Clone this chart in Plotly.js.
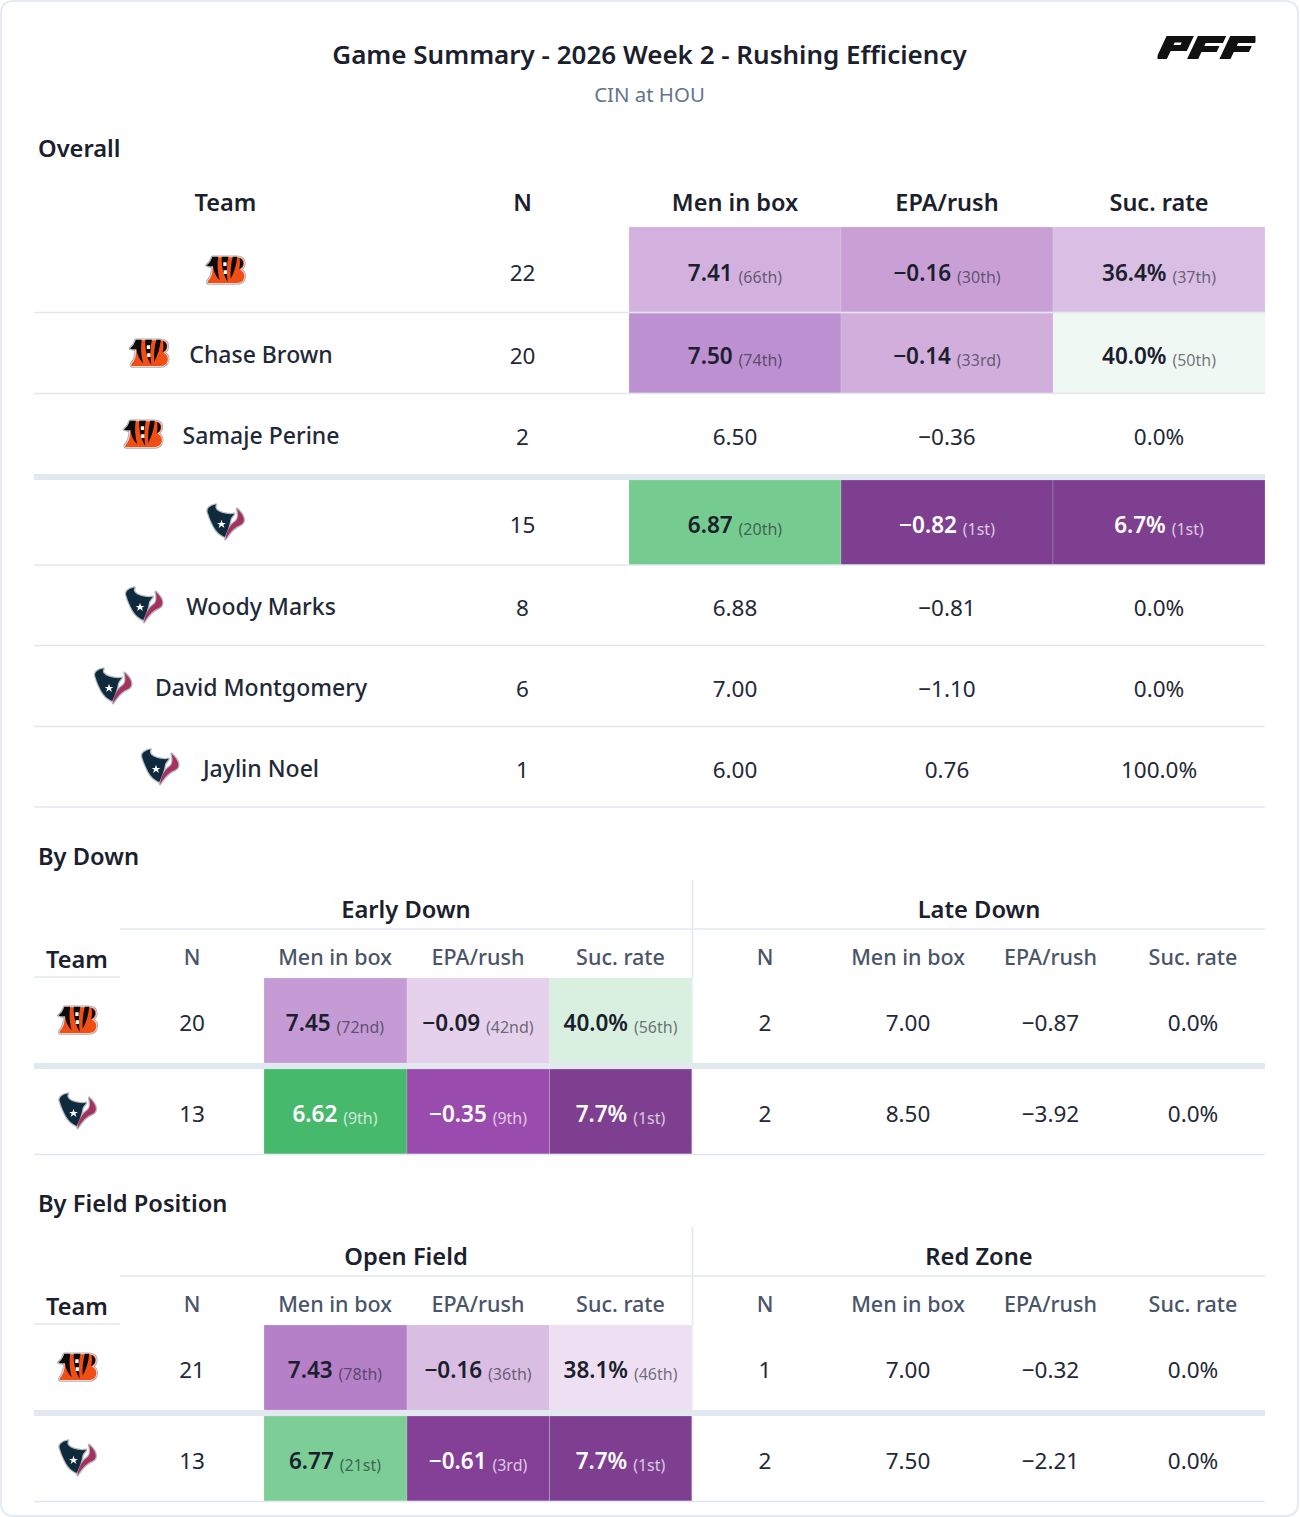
<!DOCTYPE html>
<html>
<head>
<meta charset="utf-8">
<script src="https://cdn.plot.ly/plotly-3.0.1.min.js"></script>
<style>html,body{margin:0;padding:0;background:#fff}#chart{width:1300px;height:1517px}</style>
</head>
<body>
<div id="chart"></div>
<script>
// ---------- values ----------
const chartTitle = 'Game Summary - 2026 Week 2 - Rushing Efficiency';
const chartSubtitle = 'CIN at HOU';
const sectionTitles = ['Overall', 'By Down', 'By Field Position'];
const metricHeaders = ['Men in box', 'EPA/rush', 'Suc. rate'];

const overallClubs = ['CIN', 'CIN', 'CIN', 'HOU', 'HOU', 'HOU', 'HOU'];
const overallNames = ['', 'Chase Brown', 'Samaje Perine', '', 'Woody Marks', 'David Montgomery', 'Jaylin Noel'];
const overallN = [22, 20, 2, 15, 8, 6, 1];
const overallBox = [7.41, 7.50, 6.50, 6.87, 6.88, 7.00, 6.00];
const overallBoxRank = ['66th', '74th', '', '20th', '', '', ''];
const overallEpa = [-0.16, -0.14, -0.36, -0.82, -0.81, -1.10, 0.76];
const overallEpaRank = ['30th', '33rd', '', '1st', '', '', ''];
const overallSuc = [36.4, 40.0, 0.0, 6.7, 0.0, 0.0, 100.0];
const overallSucRank = ['37th', '50th', '', '1st', '', '', ''];

const splitClubs = ['CIN', 'HOU'];

const downGroups = ['Early Down', 'Late Down'];
const earlyN = [20, 13];
const earlyBox = [7.45, 6.62];
const earlyBoxRank = ['72nd', '9th'];
const earlyEpa = [-0.09, -0.35];
const earlyEpaRank = ['42nd', '9th'];
const earlySuc = [40.0, 7.7];
const earlySucRank = ['56th', '1st'];
const lateN = [2, 2];
const lateBox = [7.00, 8.50];
const lateEpa = [-0.87, -3.92];
const lateSuc = [0.0, 0.0];

const fieldGroups = ['Open Field', 'Red Zone'];
const openN = [21, 13];
const openBox = [7.43, 6.77];
const openBoxRank = ['78th', '21st'];
const openEpa = [-0.16, -0.61];
const openEpaRank = ['36th', '3rd'];
const openSuc = [38.1, 7.7];
const openSucRank = ['46th', '1st'];
const redN = [1, 2];
const redBox = [7.00, 7.50];
const redEpa = [-0.32, -2.21];
const redSuc = [0.0, 0.0];

// ---------- styles ----------
const overallBoxShade = ['#d3b1de', '#bd91d1', null, '#75cb90', null, null, null];
const overallEpaShade = ['#c9a0d6', '#d1aedc', null, '#7e3f90', null, null, null];
const overallSucShade = ['#dabfe4', '#f0f8f3', null, '#7e3f90', null, null, null];
const earlyBoxShade = ['#c49bd4', '#47b96d'];
const earlyEpaShade = ['#e5d1eb', '#9a4bae'];
const earlySucShade = ['#d9f0e1', '#7e3f90'];
const openBoxShade = ['#b680c8', '#7ccd96'];
const openEpaShade = ['#d9bde3', '#843f96'];
const openSucShade = ['#eee0f2', '#7e3f90'];

const FONT = 'Noto Sans, sans-serif';
const INK = '#1a202c';
const BODY = '#1f2937';
const SUB = '#4a5568';
const MUTED = '#64748b';
const RULE = '#e2e8f0';
const TEXT_DY = 2.5;

// ---------- formatting ----------
const fmtBox = v => v.toFixed(2);
const fmtEpa = v => (v < 0 ? '\u2212' : '') + Math.abs(v).toFixed(2);
const fmtSuc = v => v.toFixed(1) + '%';
const isDark = hex => {
  const n = parseInt(hex.slice(1), 16);
  return 0.299 * (n >> 16) + 0.587 * ((n >> 8) & 255) + 0.114 * (n & 255) < 150;
};

// ---------- logos (drawn, not photographs) ----------
const svgUri = s => 'data:image/svg+xml;utf8,' + encodeURIComponent(s);
const cinB = 'M24 10H90C106 10 113 19 111 31C110 38 106 42 101 45C110 49 114 58 112 67C110 78 100 83 88 83H16C10 83 9 79 12 75C18 68 22 60 23 50L24 36C18 37 13 36 8 34C16 28 21 20 24 10Z';
const cinLogo = svgUri(`<svg xmlns="http://www.w3.org/2000/svg" viewBox="0 0 120 92">
<path d="${cinB}" fill="#fff" stroke="#a4abb3" stroke-width="7" stroke-linejoin="round"/>
<path d="${cinB}" fill="#f04e14" stroke="#fff" stroke-width="2" stroke-linejoin="round"/>
<path d="M24 10H40C37 30 38 52 44 74C34 64 27 50 26 36C19 37 13 36 8 34C16 28 21 20 24 10Z" fill="#0b0b0b"/>
<path d="M50 10H68C63 30 63 56 66 78C55 62 48 34 50 10Z" fill="#0b0b0b"/>
<path d="M54 25H63V35H54ZM55 47H64V57H55Z" fill="#fff"/>
<path d="M80 10H92C90 32 84 52 74 70C73 48 75 28 80 10Z" fill="#0b0b0b"/>
<path d="M98 13C107 17 110 24 108 32C106 38 103 41 97 44C100 34 100 22 98 13Z" fill="#0b0b0b"/>
</svg>`);
const houHead = 'M12 28C6 16 18 6 34 4C28 14 36 22 50 27C60 30 72 32 84 30C80 36 76 40 74 44C72 60 66 76 58 94C46 88 34 78 28 66C22 54 16 42 12 28Z';
const houHorn = 'M92 16C110 32 118 52 102 60C86 66 74 78 60 100C62 78 74 60 86 52C96 46 96 30 92 16Z';
const houLogo = svgUri(`<svg xmlns="http://www.w3.org/2000/svg" viewBox="0 0 120 105">
<path d="${houHead}" fill="#fff" stroke="#b4bac1" stroke-width="7" stroke-linejoin="round"/>
<path d="${houHorn}" fill="#fff" stroke="#b4bac1" stroke-width="7" stroke-linejoin="round"/>
<path d="${houHead}" fill="#0f2a3d"/>
<path d="${houHorn}" fill="#a6305e"/>
<path d="M49 46L52 55L61 55L54 60L57 69L49 63L41 69L44 60L37 55L46 55Z" fill="#fff"/>
</svg>`);
const pffLogo = svgUri(`<svg xmlns="http://www.w3.org/2000/svg" viewBox="0 0 97 23">
<g transform="translate(9 0) skewX(-25)" fill="#111">
<path d="M0 0H27V15H11V23H0ZM11 6.5V9H18V6.5Z"/>
<path d="M31 0H59V7H42V10H57V16H42V23H31Z" />
<path d="M63 0H91V7H74V10H89V16H74V23H63Z"/>
</g></svg>`);
const clubLogo = { CIN: cinLogo, HOU: houLogo };

// ---------- layout geometry ----------
const LEFT = 34, RIGHT = 1265;
const overallCols = [629, 841, 1053, 1265];
const overallRows = [[227, 312], [313, 393], [394, 474], [480, 565], [565, 645], [646, 726], [727, 807]];
const overallValueY = [273, 356, 437, 525, 608, 689, 770];
const overallLogoY = [270, 353, 434, 522, 605, 686, 767];
const overallLogoX = [225.5, 149, 143, 225.5, 144, 113, 160];
const overallNameX = 261, overallNX = 522.5;

const splitCells = [264, 407, 549.5, 692];
const splitMetricCentres = [335, 478, 620.5];
const splitNX = [192, 765];
const lateCentres = [908, 1050.5, 1193];

const traces = [], shapes = [], images = [];

function addCells(lefts, rights, tops, bottoms, colors) {
  const base = [], w = [], y = [], h = [], c = [];
  colors.forEach((col, i) => {
    if (!col) return;
    base.push(lefts[i]); w.push(rights[i] - lefts[i]);
    y.push((tops[i] + bottoms[i]) / 2); h.push(bottoms[i] - tops[i]); c.push(col);
  });
  traces.push({ type: 'bar', orientation: 'h', base, x: w, y, width: h,
    marker: { color: c, line: { width: 1, color: 'rgba(226,232,240,0.22)' } }, hoverinfo: 'skip', showlegend: false });
}
function addText(xs, ys, texts, size, color, weight) {
  traces.push({ type: 'scatter', mode: 'text', x: xs, y: ys.map(y => y + TEXT_DY), text: texts,
    textposition: 'middle center', cliponaxis: false, hoverinfo: 'skip', showlegend: false,
    textfont: { family: FONT, size, color, weight: weight || 400 } });
}
function cellLabel(value, rank, shade) {
  const dark = shade && isDark(shade);
  const vc = dark ? '#ffffff' : INK;
  const rc = dark ? 'rgba(255,255,255,0.72)' : 'rgba(26,32,44,0.62)';
  return `<span style="font-weight:600;color:${vc}">${value}</span> ` +
         `<span style="font-size:16px;color:${rc};baseline-shift:-2px">(${rank})</span>`;
}
function addRule(x0, y0, x1, y1, width, color) {
  shapes.push({ type: 'line', xref: 'x', yref: 'y', x0, y0, x1, y1, layer: 'above',
    line: { color: color || RULE, width: width || 1.6 } });
}
function addLogo(club, cx, cy, w, h) {
  images.push({ source: clubLogo[club], xref: 'x', yref: 'y', x: cx, y: cy, sizex: w, sizey: h,
    xanchor: 'center', yanchor: 'middle', sizing: 'contain', layer: 'above' });
}

// ---------- card, title, logo ----------
shapes.push({ type: 'path', xref: 'x', yref: 'y', layer: 'below',
  path: 'M14 1 H1285 Q1298 1 1298 14 V1503 Q1298 1516 1285 1516 H14 Q1 1516 1 1503 V14 Q1 1 14 1 Z',
  fillcolor: '#ffffff', line: { color: '#e5eaf3', width: 2 } });
addText([649.5], [55], [chartTitle], 26, INK, 600);
addText([649.5], [94], [chartSubtitle], 20.4, MUTED, 400);
images.push({ source: pffLogo, xref: 'x', yref: 'y', x: 1206.5, y: 47.5, sizex: 98, sizey: 24,
  xanchor: 'center', yanchor: 'middle', sizing: 'contain', layer: 'above' });

// ---------- section titles ----------
[[149], [857], [1204]].forEach((p, i) => {
  traces.push({ type: 'scatter', mode: 'text', x: [38], y: [p[0] + TEXT_DY], text: [sectionTitles[i]],
    textposition: 'middle right', cliponaxis: false, hoverinfo: 'skip', showlegend: false,
    textfont: { family: FONT, size: 23.7, color: INK, weight: 600 } });
});

// ---------- overall table ----------
addText([225.5, overallNX], [203, 203], ['Team', 'N'], 23.5, INK, 600);
addText(overallCols.slice(0, 3).map((l, i) => (l + overallCols[i + 1]) / 2), [203, 203, 203], metricHeaders, 23.5, INK, 600);
const tops = overallRows.map(r => r[0]), bots = overallRows.map(r => r[1]);
[overallBoxShade, overallEpaShade, overallSucShade].forEach((shade, c) => {
  addCells(shade.map(() => overallCols[c]), shade.map(() => overallCols[c + 1]), tops, bots, shade);
});
addText(overallNames.map(() => overallNX), overallValueY, overallN.map(String), 22.5, BODY, 400);
overallClubs.forEach((club, i) => addLogo(club, overallLogoX[i], overallLogoY[i], 44, 38));
addText(overallNames.map(() => overallNameX).filter((_, i) => overallNames[i]),
  overallLogoY.filter((_, i) => overallNames[i]).map(y => y + 2),
  overallNames.filter(n => n), 23, BODY, 500);
[
  [overallBox, overallBoxRank, overallBoxShade, fmtBox],
  [overallEpa, overallEpaRank, overallEpaShade, fmtEpa],
  [overallSuc, overallSucRank, overallSucShade, fmtSuc]
].forEach(([vals, ranks, shade, fmt], c) => {
  const cx = (overallCols[c] + overallCols[c + 1]) / 2;
  addText(vals.map(() => cx), overallValueY,
    vals.map((v, i) => ranks[i] ? cellLabel(fmt(v), ranks[i], shade[i]) : fmt(v)), 22.5, BODY, 400);
});
[312.5, 393.5, 565, 645.5, 726.5, 807].forEach(y => addRule(LEFT, y, RIGHT, y));
addRule(LEFT, 477, RIGHT, 477, 6);

// ---------- split tables ----------
function splitTable(o) {
  const { groups, vTop, spanY, ruleY, teamY, headY, underY, rows, valueY, logoY, bottom } = o;
  addText([406, 979], [spanY, spanY], groups, 23.7, INK, 600);
  addRule(692.5, rows[0][0], 692.5, bottom, 1.6, '#eef1f6');
  addRule(692.5, vTop, 692.5, rows[0][0], 1.6);
  addRule(120, ruleY, RIGHT, ruleY, 1.6);
  addRule(LEFT, underY, 120, underY, 1.6);
  addText([77], [teamY], ['Team'], 23.5, INK, 600);
  addText(splitNX, [headY, headY], ['N', 'N'], 21.5, SUB, 500);
  addText(splitMetricCentres, [headY, headY, headY], metricHeaders, 21.5, SUB, 500);
  addText(lateCentres, [headY, headY, headY], metricHeaders, 21.5, SUB, 500);
  const t = rows.map(r => r[0]), b = rows.map(r => r[1]);
  o.left.forEach(([vals, ranks, shade, fmt], c) => {
    addCells(shade.map(() => splitCells[c]), shade.map(() => splitCells[c + 1]), t, b, shade);
    addText(vals.map(() => splitMetricCentres[c]), valueY,
      vals.map((v, i) => cellLabel(fmt(v), ranks[i], shade[i])), 22.5, BODY, 400);
  });
  addText(o.leftN.map(() => splitNX[0]), valueY, o.leftN.map(String), 22.5, BODY, 400);
  addText(o.rightN.map(() => splitNX[1]), valueY, o.rightN.map(String), 22.5, BODY, 400);
  o.right.forEach(([vals, fmt], c) => {
    addText(vals.map(() => lateCentres[c]), valueY, vals.map(fmt), 22.5, BODY, 400);
  });
  splitClubs.forEach((club, i) => addLogo(club, 77.5, logoY[i], 44, 38));
  addRule(LEFT, (rows[0][1] + rows[1][0]) / 2, RIGHT, (rows[0][1] + rows[1][0]) / 2, 6);
  addRule(LEFT, bottom, RIGHT, bottom);
}
splitTable({
  groups: downGroups, vTop: 880, spanY: 910, ruleY: 929, teamY: 960, headY: 957, underY: 977,
  rows: [[978, 1063], [1069, 1154]], valueY: [1023, 1114], logoY: [1020, 1111], bottom: 1154.5,
  leftN: earlyN, rightN: lateN,
  left: [[earlyBox, earlyBoxRank, earlyBoxShade, fmtBox], [earlyEpa, earlyEpaRank, earlyEpaShade, fmtEpa], [earlySuc, earlySucRank, earlySucShade, fmtSuc]],
  right: [[lateBox, fmtBox], [lateEpa, fmtEpa], [lateSuc, fmtSuc]]
});
splitTable({
  groups: fieldGroups, vTop: 1227, spanY: 1257, ruleY: 1276, teamY: 1307, headY: 1304, underY: 1324,
  rows: [[1325, 1410], [1416, 1501]], valueY: [1370, 1461], logoY: [1367, 1458], bottom: 1501.5,
  leftN: openN, rightN: redN,
  left: [[openBox, openBoxRank, openBoxShade, fmtBox], [openEpa, openEpaRank, openEpaShade, fmtEpa], [openSuc, openSucRank, openSucShade, fmtSuc]],
  right: [[redBox, fmtBox], [redEpa, fmtEpa], [redSuc, fmtSuc]]
});

Plotly.newPlot('chart', traces, {
  width: 1300, height: 1517, margin: { l: 0, r: 0, t: 0, b: 0 },
  paper_bgcolor: '#ffffff', plot_bgcolor: 'rgba(0,0,0,0)', showlegend: false,
  barmode: 'overlay',
  xaxis: { range: [0, 1300], visible: false, fixedrange: true },
  yaxis: { range: [1517, 0], visible: false, fixedrange: true },
  shapes, images, font: { family: FONT }
}, { displayModeBar: false, staticPlot: true });
</script>
</body>
</html>
